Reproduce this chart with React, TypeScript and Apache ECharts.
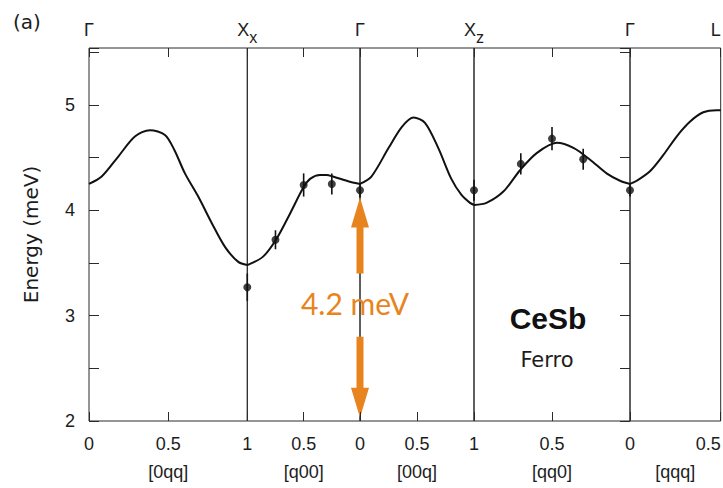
import React, { useEffect, useRef } from 'react';
import * as echarts from 'echarts';

// ---- data ----
const segmentNames = ['[0qq]', '[q00]', '[00q]', '[qq0]', '[qqq]'];
const segmentQMax = [1, 1, 1, 1, 0.5];
const segmentInverse = [false, true, false, true, false];
const pointNames = ['Γ', 'X', 'Γ', 'X', 'Γ', 'L'];
const pointSubs = ['', 'x', '', 'z', '', ''];
const yTicks = [2, 3, 4, 5];

const curve0qqQ = [0, 0.08, 0.185, 0.29, 0.385, 0.48, 0.54, 0.606, 0.69, 0.775, 0.86, 0.943, 1];
const curve0qqE = [4.25, 4.32, 4.51, 4.7, 4.76, 4.715, 4.57, 4.35, 4.13, 3.88, 3.65, 3.51, 3.48];
const curveQ00Q = [1, 0.86, 0.74, 0.62, 0.5, 0.44, 0.355, 0.296, 0.24, 0.09, 0];
const curveQ00E = [3.48, 3.56, 3.73, 3.97, 4.22, 4.3, 4.335, 4.335, 4.32, 4.27, 4.25];
const curve00qQ = [0, 0.1, 0.25, 0.366, 0.47, 0.57, 0.687, 0.8, 0.89, 0.965, 1];
const curve00qE = [4.25, 4.32, 4.59, 4.79, 4.88, 4.83, 4.59, 4.3, 4.145, 4.07, 4.05];
const curveQq0Q = [1, 0.92, 0.81, 0.705, 0.6, 0.47, 0.36, 0.256, 0.15, 0.064, 0];
const curveQq0E = [4.05, 4.07, 4.18, 4.38, 4.54, 4.64, 4.59, 4.48, 4.35, 4.28, 4.25];
const curveQqqQ = [0, 0.037, 0.11, 0.184, 0.257, 0.33, 0.404, 0.478, 0.5];
const curveQqqE = [4.25, 4.28, 4.37, 4.525, 4.7, 4.84, 4.93, 4.95, 4.95];

const pointsQ00Q = [1, 0.75, 0.5, 0.25, 0];
const pointsQ00E = [3.27, 3.72, 4.24, 4.25, 4.19];
const pointsQ00Err = [0.13, 0.09, 0.11, 0.1, 0.07];
const pointsQq0Q = [1, 0.7, 0.5, 0.3, 0];
const pointsQq0E = [4.19, 4.44, 4.68, 4.485, 4.19];
const pointsQq0Err = [0.1, 0.1, 0.11, 0.1, 0.06];

const arrowUpE = [4.12, 3.4]; // tip, tail
const arrowDownE = [2.8, 2.03]; // tail, tip
const gapLabelE = 3.12;
const gapLabel = '4.2 meV';

// ---- layout / style ----
const gridLefts = [89, 247.3, 360, 474, 630];
const gridWidths = [158.3, 112.7, 114, 156, 90.7];
const INK = '#1c1c1c';
const ORANGE = '#E8841E';
const FONT = 'Liberation Sans';

const curvesQ = [curve0qqQ, curveQ00Q, curve00qQ, curveQq0Q, curveQqqQ];
const curvesE = [curve0qqE, curveQ00E, curve00qE, curveQq0E, curveQqqE];
const pointSets = [
  null,
  { q: pointsQ00Q, e: pointsQ00E, err: pointsQ00Err },
  null,
  { q: pointsQq0Q, e: pointsQq0E, err: pointsQq0Err },
  null,
];

const fmtQ = (v: number) => (v === 0.5 ? '0.5' : String(v));
const leftEdge = (i: number) => (segmentInverse[i] ? segmentQMax[i] : 0);
const rightEdge = (i: number) => (segmentInverse[i] ? 0 : segmentQMax[i]);
const richName = (k: number) =>
  pointSubs[k] ? `{m|${pointNames[k]}}{s|${pointSubs[k]}}` : `{m|${pointNames[k]}}`;

export default function App() {
  const ref = useRef<HTMLDivElement>(null);

  useEffect(() => {
    if (!ref.current) return;
    const chart = echarts.init(ref.current, undefined, { renderer: 'svg' });

    const grids = gridLefts.map((l, i) => ({
      left: l,
      width: gridWidths[i],
      top: 48,
      bottom: 67,
      show: true,
      borderColor: '#2a2a2a',
      borderWidth: 1,
      backgroundColor: 'transparent',
      containLabel: false,
      outerBoundsMode: 'none',
    }));

    const bottomAxes = segmentNames.map((name, i) => ({
      type: 'value',
      gridIndex: i,
      position: 'bottom',
      min: 0,
      max: segmentQMax[i],
      interval: 0.5,
      inverse: segmentInverse[i],
      axisLine: { show: false },
      splitLine: { show: false },
      axisTick: { show: true, inside: true, length: 9, lineStyle: { color: '#2a2a2a', width: 1 } },
      axisLabel: {
        show: true,
        margin: 14,
        fontSize: 18,
        color: INK,
        fontFamily: FONT,
        showMinLabel: true,
        showMaxLabel: true,
        alignMaxLabel: i === 4 ? 'right' : 'center',
        formatter: (v: number) => (i > 0 && v === leftEdge(i) ? '' : fmtQ(v)),
      },
      name,
      nameLocation: 'middle',
      nameGap: 42,
      nameTextStyle: { fontSize: 18, color: INK, fontFamily: FONT },
    }));

    const topAxes = segmentNames.map((_, i) => ({
      type: 'value',
      gridIndex: i,
      position: 'top',
      min: 0,
      max: segmentQMax[i],
      interval: 0.5,
      inverse: segmentInverse[i],
      axisLine: { show: false },
      splitLine: { show: false },
      axisTick: { show: true, inside: true, length: 9, lineStyle: { color: '#2a2a2a', width: 1 } },
      axisLabel: {
        show: true,
        margin: 3,
        color: INK,
        showMinLabel: true,
        showMaxLabel: true,
        alignMaxLabel: i === 4 ? 'right' : 'center',
        formatter: (v: number) => {
          if (i === 0 && v === leftEdge(i)) return richName(0);
          if (v === rightEdge(i)) return richName(i + 1);
          return '';
        },
        rich: {
          m: { fontSize: 18, fontFamily: FONT, color: INK, padding: [0, 0, 6, 0], verticalAlign: 'bottom' },
          s: { fontSize: 16, fontFamily: FONT, color: INK, verticalAlign: 'bottom' },
        },
      },
    }));

    const yAxes = segmentNames.map((_, i) => {
      const base: any = {
        type: 'value',
        gridIndex: i,
        min: 2,
        max: 5.54,
        interval: 0.5,
        splitLine: { show: false },
        axisLine: { show: false },
      };
      if (i === 0) {
        return {
          ...base,
          position: 'left',
          axisTick: { show: true, inside: true, length: 10, lineStyle: { color: '#2a2a2a' } },
          axisLabel: {
            margin: 14,
            fontSize: 18,
            color: INK,
            fontFamily: FONT,
            formatter: (v: number) => (yTicks.indexOf(v) >= 0 ? String(v) : ''),
          },
          name: 'Energy (meV)',
          nameLocation: 'middle',
          nameRotate: 90,
          nameGap: 48,
          nameTextStyle: { fontSize: 20, color: INK, fontFamily: 'DejaVu Sans' },
        };
      }
      if (i === 4) {
        return {
          ...base,
          position: 'right',
          axisTick: { show: true, inside: true, length: 10, lineStyle: { color: '#2a2a2a' } },
          axisLabel: { show: false },
        };
      }
      return { ...base, show: false };
    });

    const series: any[] = [];
    curvesQ.forEach((qs, i) => {
      series.push({
        type: 'line',
        xAxisIndex: i,
        yAxisIndex: i,
        data: qs.map((q, j) => [q, curvesE[i][j]]),
        smooth: 0.3,
        showSymbol: false,
        clip: false,
        lineStyle: { color: '#111', width: 2 },
        silent: true,
      });
      const ps = pointSets[i];
      if (ps) {
        const pd = ps.q.map((q, j) => [q, ps.e[j], ps.err[j]]);
        series.push({
          type: 'custom',
          xAxisIndex: i,
          yAxisIndex: i,
          data: pd,
          encode: { x: 0, y: 1 },
          clip: false,
          renderItem: (params: any, api: any) => {
            const x = api.value(0);
            const y = api.value(1);
            const e = api.value(2);
            const p1 = api.coord([x, y - e]);
            const p2 = api.coord([x, y + e]);
            return {
              type: 'line',
              shape: { x1: p1[0], y1: p1[1], x2: p2[0], y2: p2[1] },
              style: { stroke: '#111', lineWidth: 1.6 },
            };
          },
        });
        series.push({
          type: 'scatter',
          xAxisIndex: i,
          yAxisIndex: i,
          data: pd.map((d) => [d[0], d[1]]),
          symbol: 'circle',
          symbolSize: 8,
          clip: false,
          itemStyle: { color: '#111' },
        });
      }
    });

    chart.setOption({
      animation: false,
      backgroundColor: '#ffffff',
      textStyle: { fontFamily: FONT },
      grid: grids,
      xAxis: [...bottomAxes, ...topAxes],
      yAxis: yAxes,
      series,
    });

    const up1 = chart.convertToPixel({ gridIndex: 2 } as any, [0, arrowUpE[0]]) as number[];
    const up2 = chart.convertToPixel({ gridIndex: 2 } as any, [0, arrowUpE[1]]) as number[];
    const dn1 = chart.convertToPixel({ gridIndex: 2 } as any, [0, arrowDownE[0]]) as number[];
    const dn2 = chart.convertToPixel({ gridIndex: 2 } as any, [0, arrowDownE[1]]) as number[];
    const lbl = chart.convertToPixel({ gridIndex: 2 } as any, [0, gapLabelE]) as number[];

    const arrow = (x: number, yTail: number, yTip: number) => {
      const dir = yTip < yTail ? 1 : -1;
      const hb = yTip + dir * 30;
      return [
        [x - 3.5, yTail],
        [x - 3.5, hb],
        [x - 9, hb],
        [x, yTip],
        [x + 9, hb],
        [x + 3.5, hb],
        [x + 3.5, yTail],
      ];
    };

    chart.setOption({
      graphic: [
        {
          type: 'text',
          x: 13,
          y: 12,
          style: { text: '(a)', fontSize: 20, fontFamily: 'DejaVu Sans', fill: INK },
        },
        {
          type: 'text',
          x: 548,
          y: 318,
          style: {
            text: 'CeSb',
            fontSize: 30,
            fontWeight: 'bold',
            fontFamily: FONT,
            fill: '#111',
            align: 'center',
            verticalAlign: 'middle',
          },
        },
        {
          type: 'text',
          x: 547,
          y: 360,
          style: {
            text: 'Ferro',
            fontSize: 21,
            fontFamily: 'DejaVu Sans',
            fill: INK,
            align: 'center',
            verticalAlign: 'middle',
          },
        },
        {
          type: 'polygon',
          shape: { points: arrow(up1[0], up2[1], up1[1]) },
          style: { fill: ORANGE },
        },
        {
          type: 'polygon',
          shape: { points: arrow(dn1[0], dn1[1], dn2[1]) },
          style: { fill: ORANGE },
        },
        {
          type: 'text',
          x: lbl[0] - 5,
          y: lbl[1],
          style: {
            text: gapLabel,
            fontSize: 30,
            fontFamily: 'Lato',
            fill: ORANGE,
            align: 'center',
            verticalAlign: 'middle',
          },
        },
      ],
    });

    return () => chart.dispose();
  }, []);

  return (
    <div
      ref={ref}
      style={{ position: 'absolute', left: 0, top: 0, width: 723, height: 488, background: '#fff' }}
    />
  );
}
